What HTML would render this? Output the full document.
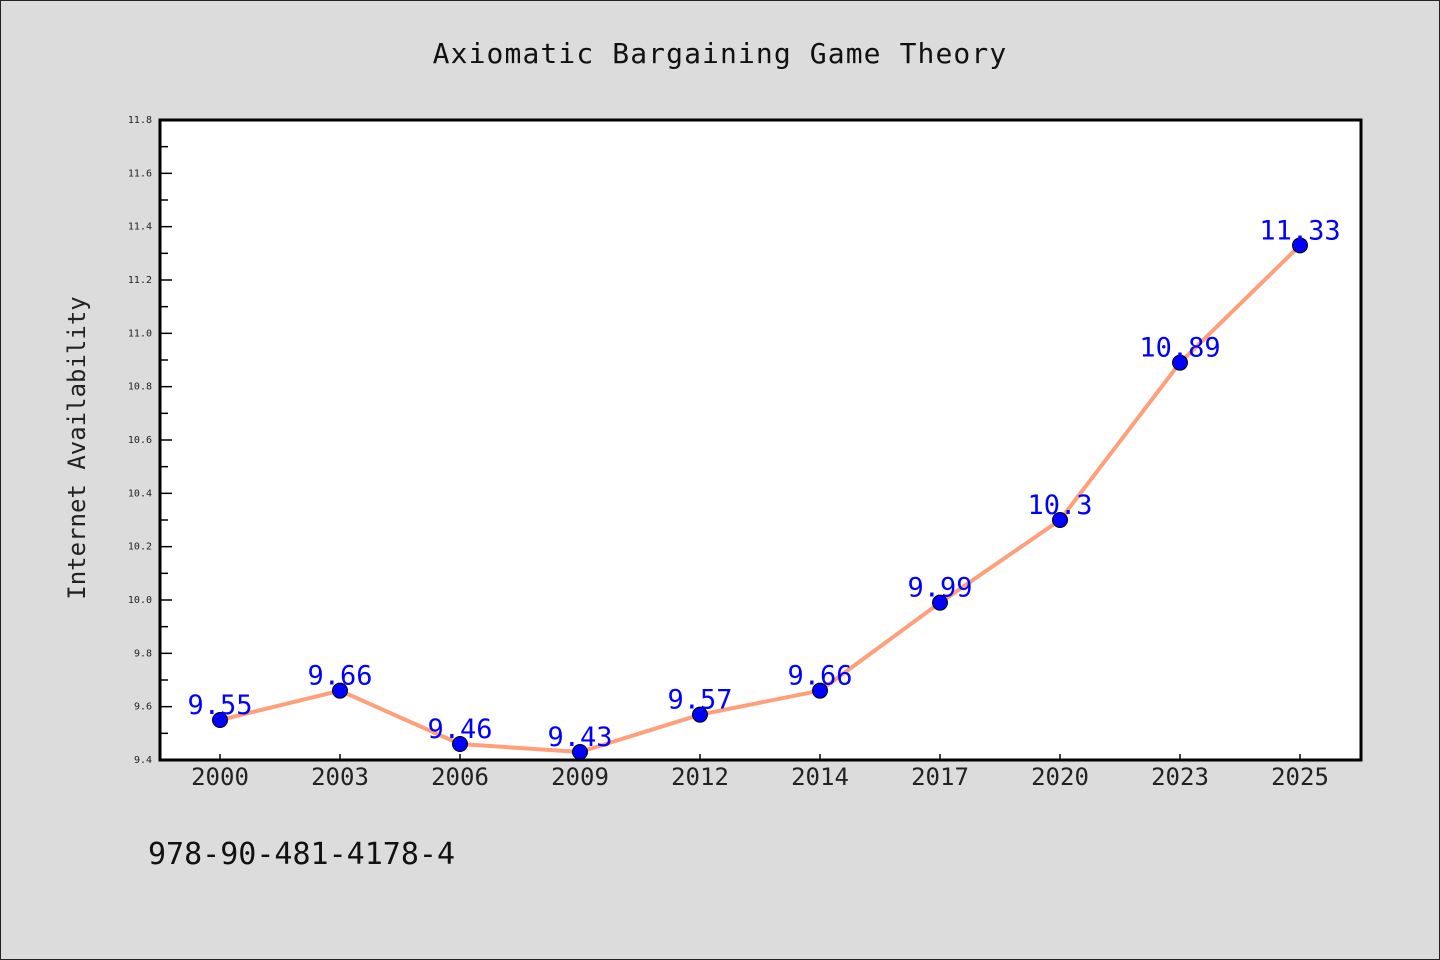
<!DOCTYPE html>
<html><head><meta charset="utf-8"><style>
body{margin:0;background:#dcdcdc;}
svg{display:block;}
text{font-family:"DejaVu Sans Mono","Liberation Mono",monospace;}
</style></head><body>
<svg id="chart" width="1440" height="960" xmlns="http://www.w3.org/2000/svg">
<rect x="0.5" y="0.5" width="1439" height="959" fill="#dcdcdc" stroke="#222"/>
<text x="720" y="63" text-anchor="middle" font-size="28" letter-spacing="1.1" fill="#111">Axiomatic Bargaining Game Theory</text>
<rect x="160" y="120" width="1201" height="640" fill="#fff"/>
<g id="axes"></g>
<g id="series"></g>
<rect x="160" y="120" width="1201" height="640" fill="none" stroke="#000" stroke-width="3"/>
<text transform="translate(85,448) rotate(-90)" text-anchor="middle" font-size="24" fill="#222">Internet Availability</text>
<text x="148" y="864" font-size="30" fill="#111">978-90-481-4178-4</text>
</svg>
<script>
const categories=["2000","2003","2006","2009","2012","2014","2017","2020","2023","2025"];
const values=[9.55,9.66,9.46,9.43,9.57,9.66,9.99,10.3,10.89,11.33];
const valueLabels=["9.55","9.66","9.46","9.43","9.57","9.66","9.99","10.3","10.89","11.33"];
const yTicks=["9.4","9.6","9.8","10.0","10.2","10.4","10.6","10.8","11.0","11.2","11.4","11.6","11.8"];
const yMin=9.4,yMax=11.8,plotTop=120,plotBottom=760,plotLeft=160;
const NS="http://www.w3.org/2000/svg";
function yScale(v){return plotBottom-(v-yMin)/(yMax-yMin)*(plotBottom-plotTop);}
function xScale(i){return plotLeft+60+i*120;}
function mk(t,a,p){const e=document.createElementNS(NS,t);for(const k in a)e.setAttribute(k,a[k]);p.appendChild(e);return e;}
const axes=document.getElementById('axes'),ser=document.getElementById('series');
yTicks.forEach(t=>{const v=parseFloat(t);
 const l=mk('line',{x1:plotLeft,x2:plotLeft+12,y1:yScale(v),y2:yScale(v),stroke:'#000','stroke-width':1.5},axes);
 
 
 const tx=mk('text',{x:152,y:yScale(v)+3,'text-anchor':'end','font-size':10,fill:'#222'},axes);tx.textContent=t;
 
 
 if(v<yMax-0.01){const m=mk('line',{x1:plotLeft,x2:plotLeft+8,y1:yScale(v+0.1),y2:yScale(v+0.1),stroke:'#000','stroke-width':1.5},axes);
 
 }
});
categories.forEach((c,i)=>{
 const l=mk('line',{x1:xScale(i),x2:xScale(i),y1:plotBottom,y2:plotBottom-6,stroke:'#000','stroke-width':1.5},axes);
 
 
 const t=mk('text',{x:xScale(i),y:785,'text-anchor':'middle','font-size':24,fill:'#222'},axes);t.textContent=c;
 
 
});
const pl=mk('polyline',{points:values.map((v,i)=>xScale(i)+','+yScale(v)).join(' '),fill:'none',stroke:'#ffa07a','stroke-width':4,'stroke-linejoin':'round'},ser);


values.forEach((v,i)=>{
 const c=mk('circle',{cx:xScale(i),cy:yScale(v),r:7.5,fill:'#0000ff',stroke:'#000','stroke-width':1},ser);
 
 
 const t=mk('text',{x:xScale(i),y:yScale(v)-6,'text-anchor':'middle','font-size':27,fill:'#0000ff'},ser);t.textContent=valueLabels[i];
 
 
});
</script>
</body></html>
